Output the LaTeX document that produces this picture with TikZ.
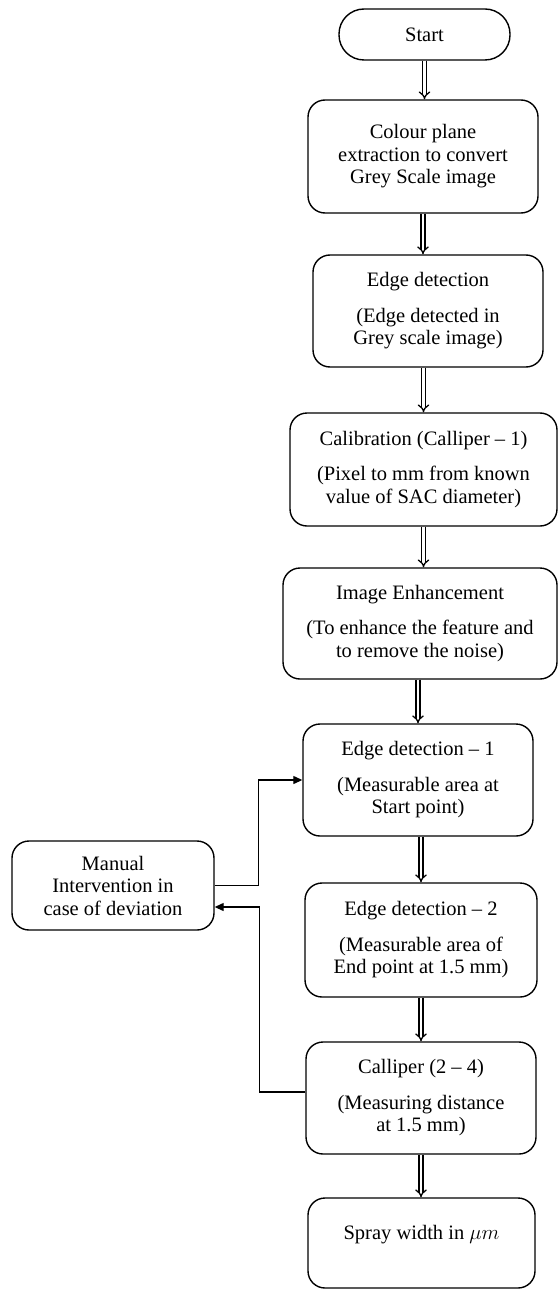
\documentclass[tikz,border=0pt]{standalone}
\usepackage{fontspec}
\setmainfont{Liberation Serif}
\usetikzlibrary{arrows.meta}
\begin{document}
\begin{tikzpicture}[x=1pt,y=-1pt,
  box/.style={draw, line width=1.4pt, rounded corners=17pt, align=center, inner sep=0pt,
    font=\fontsize{20.5}{22.5}\selectfont},
  dbl/.style={double, double distance=2.6pt, line width=1.3pt, -{Implies}},
  fb/.style={line width=1.3pt, -{Triangle[length=9pt,width=8pt]}}]
\useasboundingbox (0,0) rectangle (558,1289);
\node[box, rounded corners=25pt, minimum width=171pt, minimum height=51pt] (start) at (424.5,34.5) {Start};
\node[box, minimum width=230pt, minimum height=113pt] (col) at (423,156.5) {Colour plane\\extraction to convert\\Grey Scale image};
\node[box, minimum width=230pt, minimum height=112pt] (edg) at (428,311) {Edge detection\\[13pt](Edge detected in\\Grey scale image)};
\node[box, minimum width=267pt, minimum height=113pt] (cal) at (423.5,469.5) {Calibration (Calliper -- 1)\\[13pt](Pixel to mm from known\\value of SAC diameter)};
\node[box, minimum width=274pt, minimum height=111pt] (enh) at (420,623.5) {Image Enhancement\\[13pt](To enhance the feature and\\to remove the noise)};
\node[box, minimum width=230pt, minimum height=112pt] (ed1) at (418,780) {Edge detection -- 1\\[13pt](Measurable area at\\Start point)};
\node[box, minimum width=202pt, minimum height=89pt] (man) at (113,885.5) {Manual\\Intervention in\\case of deviation};
\node[box, minimum width=232pt, minimum height=114pt] (ed2) at (421,940) {Edge detection -- 2\\[13pt](Measurable area of\\End point at 1.5 mm)};
\node[box, minimum width=230pt, minimum height=112pt] (clp) at (421,1098) {Calliper (2 -- 4)\\[13pt](Measuring distance\\at 1.5 mm)};
\node[box, minimum width=227pt, minimum height=90pt, text depth=22pt] (spr) at (421.5,1243) {Spray width in $\mu m$};
\draw[dbl] (start.south) -- (start.south |- col.north);
\draw[dbl] (col.south) -- (col.south |- edg.north);
\draw[dbl] (cal.north |- edg.south) -- (cal.north);
\draw[dbl] (cal.south) -- (cal.south |- enh.north);
\draw[dbl] (ed1.north |- enh.south) -- (ed1.north);
\draw[dbl] (ed2.north |- ed1.south) -- (ed2.north);
\draw[dbl] (ed2.south) -- (ed2.south |- clp.north);
\draw[dbl] (clp.south) -- (clp.south |- spr.north);
\draw[fb] (man.east) -- ++(44,0) |- (ed1.west);
\draw[fb] ([yshift=6pt]clp.west) -- ++(-46,0) |- ([yshift=-21.5pt]man.east);
\end{tikzpicture}
\end{document}
